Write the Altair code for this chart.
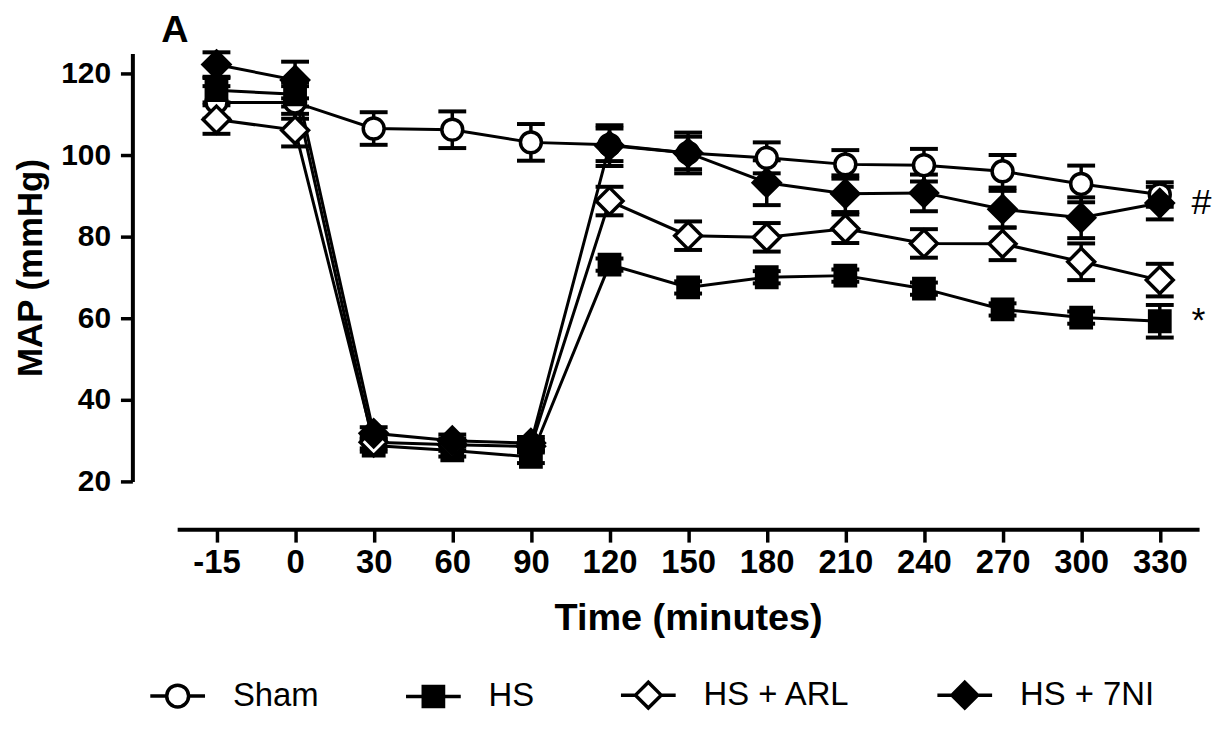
import altair as alt
import pandas as pd

# ---- data ----
times = ["-15", "0", "30", "60", "90", "120", "150", "180", "210", "240", "270", "300", "330"]
series_names = ["Sham", "HS", "HS + ARL", "HS + 7NI"]

sham = [113.0, 113.0, 106.6, 106.3, 103.2, 102.6, 100.6, 99.4, 97.8, 97.6, 96.1, 93.0, 90.4]
hs = [116.0, 115.0, 28.8, 27.6, 26.0, 73.2, 67.6, 70.1, 70.5, 67.3, 62.2, 60.2, 59.3]
arl = [108.8, 106.2, 29.6, 29.0, 28.6, 88.8, 80.3, 79.9, 82.0, 78.4, 78.3, 73.9, 69.4]
ni = [122.3, 118.5, 31.8, 30.0, 29.4, 102.4, 100.6, 93.3, 90.6, 90.8, 86.8, 84.7, 88.3]

sham_err = [4.0, 4.0, 4.0, 4.5, 4.5, 4.0, 4.0, 3.8, 3.5, 4.0, 4.0, 4.5, 3.0]
hs_err = [3.0, 3.0, 1.5, 1.5, 1.5, 1.5, 1.5, 1.5, 1.5, 1.5, 1.5, 1.5, 4.0]
arl_err = [3.5, 4.0, 1.5, 1.5, 1.5, 3.5, 3.5, 3.5, 3.5, 3.5, 4.0, 4.5, 4.0]
ni_err = [3.0, 4.5, 1.5, 1.5, 1.5, 5.0, 5.0, 5.5, 4.5, 4.5, 4.5, 5.0, 4.0]

fills = ["white", "black", "white", "black"]
strokes = ["black", "black", "black", "black"]

annot_labels = ["#", "*"]
annot_series = ["HS + 7NI", "HS"]

# ---- marker shapes ----
marker_paths = [
    "M0.7,0A0.7,0.7 0 1,1 -0.7,0A0.7,0.7 0 1,1 0.7,0Z",
    "M-0.68,-0.68H0.68V0.68H-0.68Z",
    "M0,-0.9L0.9,0L0,0.9L-0.9,0Z",
    "M0,-0.9L0.9,0L0,0.9L-0.9,0Z",
]
legend_paths = [
    "M-1,0H-0.4M0.4,0H1M0.4,0A0.4,0.4 0 1,1 -0.4,0A0.4,0.4 0 1,1 0.4,0Z",
    "M-1,0H-0.37M0.37,0H1M-0.37,-0.37H0.37V0.37H-0.37Z",
    "M-1,0H-0.47M0.47,0H1M0,-0.47L0.47,0L0,0.47L-0.47,0Z",
    "M-1,0H-0.47M0.47,0H1M0,-0.47L0.47,0L0,0.47L-0.47,0Z",
]

rows = []
for s, vals, errs in zip(series_names, [sham, hs, arl, ni], [sham_err, hs_err, arl_err, ni_err]):
    for i, (t, v, e) in enumerate(zip(times, vals, errs)):
        rows.append({"series": s, "time": t, "idx": i, "value": v, "lo": v - e, "hi": v + e})
df = pd.DataFrame(rows)

ann_rows = []
for lab, s in zip(annot_labels, annot_series):
    v = df[(df.series == s) & (df.time == times[-1])]["value"].iloc[0]
    ann_rows.append({"label": lab, "time": times[-1], "value": v})
ann_df = pd.DataFrame(ann_rows)

BOLD = "Liberation Sans"

x_enc = alt.X(
    "time:N",
    sort=times,
    scale=alt.Scale(type="point", domain=times, range=[45, 1072], padding=0.5),
    axis=alt.Axis(
        title="Time (minutes)", offset=48, labelAngle=0, grid=False,
        domainColor="black", domainWidth=4, tickColor="black", tickWidth=3.5, tickSize=13,
        labelFont=BOLD, labelFontWeight="bold", labelFontSize=33, labelColor="black", labelPadding=5,
        titleFont=BOLD, titleFontWeight="bold", titleFontSize=38, titleColor="black", titlePadding=20,
    ),
)
y_axis = alt.Axis(
    title="MAP (mmHg)", values=[20, 40, 60, 80, 100, 120], grid=False,
    domainColor="black", domainWidth=4, tickColor="black", tickWidth=3.5, tickSize=12,
    labelFont=BOLD, labelFontWeight="bold", labelFontSize=30, labelColor="black", labelPadding=10,
    titleFont=BOLD, titleFontWeight="bold", titleFontSize=35, titleColor="black", titlePadding=12,
)
y_scale = alt.Scale(domain=[20, 125], nice=False, zero=False)

base = alt.Chart(df)

lines = base.mark_line(color="black", strokeWidth=3).encode(
    x=x_enc, y=alt.Y("value:Q", scale=y_scale, axis=y_axis), detail="series:N", order="idx:Q"
)
bars = base.mark_rule(color="black", strokeWidth=3.5).encode(
    x=x_enc, y=alt.Y("lo:Q", scale=y_scale, axis=y_axis), y2="hi:Q"
)
cap_hi = base.mark_tick(color="black", thickness=4, size=28, opacity=1).encode(
    x=x_enc, y=alt.Y("hi:Q", scale=y_scale, axis=y_axis)
)
cap_lo = base.mark_tick(color="black", thickness=4, size=28, opacity=1).encode(
    x=x_enc, y=alt.Y("lo:Q", scale=y_scale, axis=y_axis)
)
points = base.mark_point(filled=True, stroke="black", strokeWidth=3.5, opacity=1, size=900).encode(
    x=x_enc,
    y=alt.Y("value:Q", scale=y_scale, axis=y_axis),
    shape=alt.Shape("series:N", scale=alt.Scale(domain=series_names, range=marker_paths), legend=None),
    fill=alt.Fill("series:N", scale=alt.Scale(domain=series_names, range=fills), legend=None),
)

leg = alt.Legend(
    title=None, orient="none", legendX=16, legendY=615, direction="horizontal", columns=4,
    padding=0, symbolSize=3025, symbolStrokeWidth=3.5, symbolStrokeColor="black",
    labelFont=BOLD, labelFontSize=33, labelColor="black", labelOffset=26, columnPadding=80,
    labelLimit=300,
)
legend_layer = base.transform_filter("false").mark_point(
    filled=True, strokeWidth=3.5, opacity=1
).encode(
    x=x_enc,
    y=alt.Y("value:Q", scale=y_scale, axis=y_axis),
    shape=alt.Shape("series:N", scale=alt.Scale(domain=series_names, range=legend_paths), legend=leg),
    fill=alt.Fill("series:N", scale=alt.Scale(domain=series_names, range=fills), legend=leg),
    stroke=alt.Stroke("series:N", scale=alt.Scale(domain=series_names, range=strokes), legend=leg),
)

annots = alt.Chart(ann_df).mark_text(
    font=BOLD, fontSize=36, fontWeight="normal", color="black", align="left", baseline="middle", dx=32
).encode(x=x_enc, y=alt.Y("value:Q", scale=y_scale, axis=y_axis), text="label:N")

chart = (
    alt.layer(lines, bars, cap_hi, cap_lo, points, legend_layer, annots)
    .resolve_scale(shape="independent", fill="independent", stroke="independent")
    .properties(
        width=1072,
        height=430,
        background="white",
        autosize=alt.AutoSizeParams(type="none"),
        padding={"left": 125, "top": 44, "right": 17, "bottom": 235},
        title=alt.TitleParams("A", anchor="start", frame="group", dx=29, dy=14, fontSize=38,
                              fontWeight="bold", font=BOLD, color="black", offset=8),
    )
    .configure_view(stroke=None)
)

chart.save("out.html", embed_options={"renderer": "svg", "actions": False})
